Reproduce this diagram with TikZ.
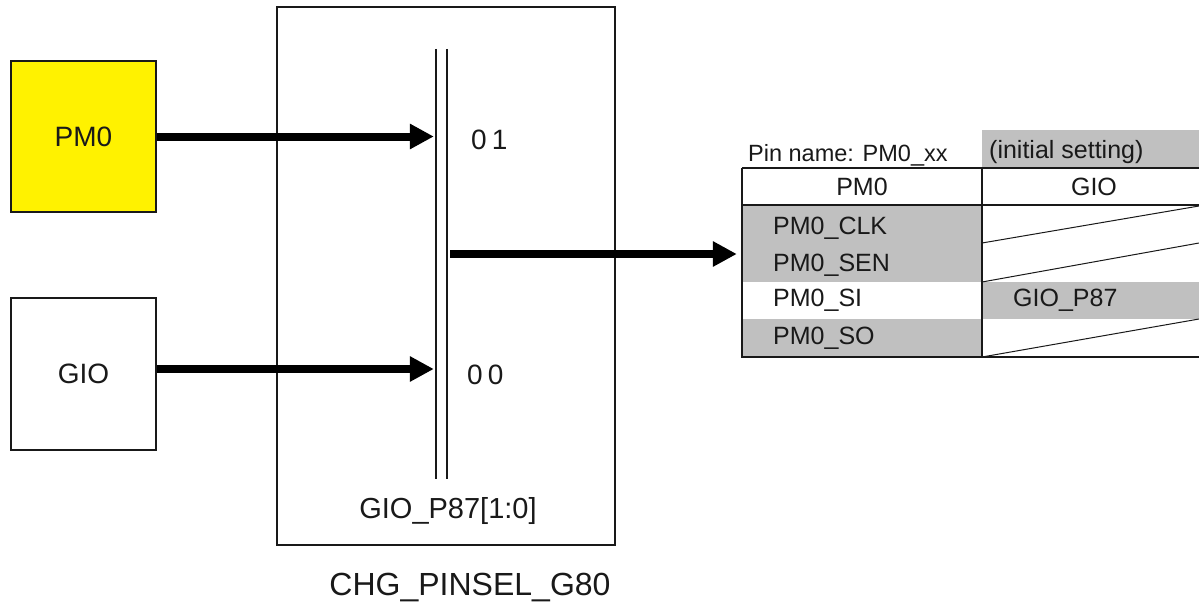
\documentclass[tikz,border=0pt]{standalone}
\usepackage{fontspec}
\setmainfont{Liberation Sans}
\usetikzlibrary{arrows.meta}
\definecolor{cellgray}{RGB}{192,192,192}
\definecolor{ink}{RGB}{25,25,25}

\begin{document}
\begin{tikzpicture}[x=1pt,y=-1pt,
  box/.style={draw=ink, line width=1.5pt, inner sep=0pt},
  bigarrow/.style={draw=black, line width=8pt, -{Triangle[length=24pt,width=24pt]}},
  lbl/.style={font=\fontsize{28}{32}\selectfont, text=ink, inner sep=0pt},
  tlbl/.style={font=\fontsize{25}{28}\selectfont, text=ink, inner sep=0pt},
  rule/.style={draw=ink, line width=1.5pt},
  thin/.style={draw=ink, line width=1pt},
]
\useasboundingbox (0,0) rectangle (1199,606);

% source blocks
\node[box, fill=yellow, minimum width=145pt, minimum height=151pt, lbl] (pm0) at (83.5,136.5) {PM0};
\node[box, fill=white, minimum width=145pt, minimum height=152pt, lbl] (gio) at (83.5,374) {GIO};

% pin selector block
\node[box, minimum width=338pt, minimum height=538pt] (sel) at (446,276) {};
\node[lbl, font=\fontsize{32}{36}\selectfont] (selname) at (470,587) {CHG\_PINSEL\_G80};

% selector bus (double bar)
\node[minimum width=11pt, minimum height=430pt, inner sep=0pt] (bus) at (441.5,264) {};
\draw[rule] (bus.north west) -- (bus.south west);
\draw[rule] (bus.north east) -- (bus.south east);
\node[lbl, anchor=west] (v01) at (471,140) {0\hspace{0.18em}1};
\node[lbl, anchor=west] (v00) at (467,375) {0\hspace{0.18em}0};
\node[lbl, font=\fontsize{29}{33}\selectfont] (selreg) at (448,511) {GIO\_P87[1:0]};

% table frame anchor
\node[minimum width=457pt, minimum height=189pt, inner sep=0pt] (tbl) at (970.5,262.5) {};
\coordinate (out) at (450,254);

% inputs and output
\draw[bigarrow, shorten >=2pt] (pm0.east) -- (pm0.east -| bus.west);
\draw[bigarrow, shorten >=2pt] (gio.east |- 0,369) -- (bus.west |- 0,369);
\draw[bigarrow, shorten >=5pt] (out) -- (out -| tbl.west);

% pin table
\fill[cellgray] (982,130) rectangle (1199,168);
\fill[cellgray] (742,205) rectangle (982,282);
\fill[cellgray] (742,319) rectangle (982,357);
\fill[cellgray] (982,282) rectangle (1199,319);
\draw[rule] (742,168) -- (1199,168);
\draw[rule] (742,205) -- (1199,205);
\draw[rule] (742,168) -- (742,357) -- (1199,357);
\draw[rule] (982,168) -- (982,357);
\draw[thin] (982,243) -- (1199,206);
\draw[thin] (982,282) -- (1199,243);
\draw[thin] (982,357) -- (1199,319);

\node[tlbl, font=\fontsize{23.5}{27}\selectfont, anchor=west] (pinname) at (748,155) {Pin name: PM0\_xx};
\node[tlbl, anchor=west] (initset) at (989,152) {(initial setting)};
\node[tlbl] (hpm0) at (862,187) {PM0};
\node[tlbl] (hgio) at (1094,187) {GIO};
\node[tlbl, anchor=west] (r1) at (773,228) {PM0\_CLK};
\node[tlbl, anchor=west] (r2) at (773,265) {PM0\_SEN};
\node[tlbl, anchor=west] (r3) at (773,300) {PM0\_SI};
\node[tlbl, anchor=west] (r4) at (773,338) {PM0\_SO};
\node[tlbl, anchor=west] (r3g) at (1013,300) {GIO\_P87};
\end{tikzpicture}
\end{document}
